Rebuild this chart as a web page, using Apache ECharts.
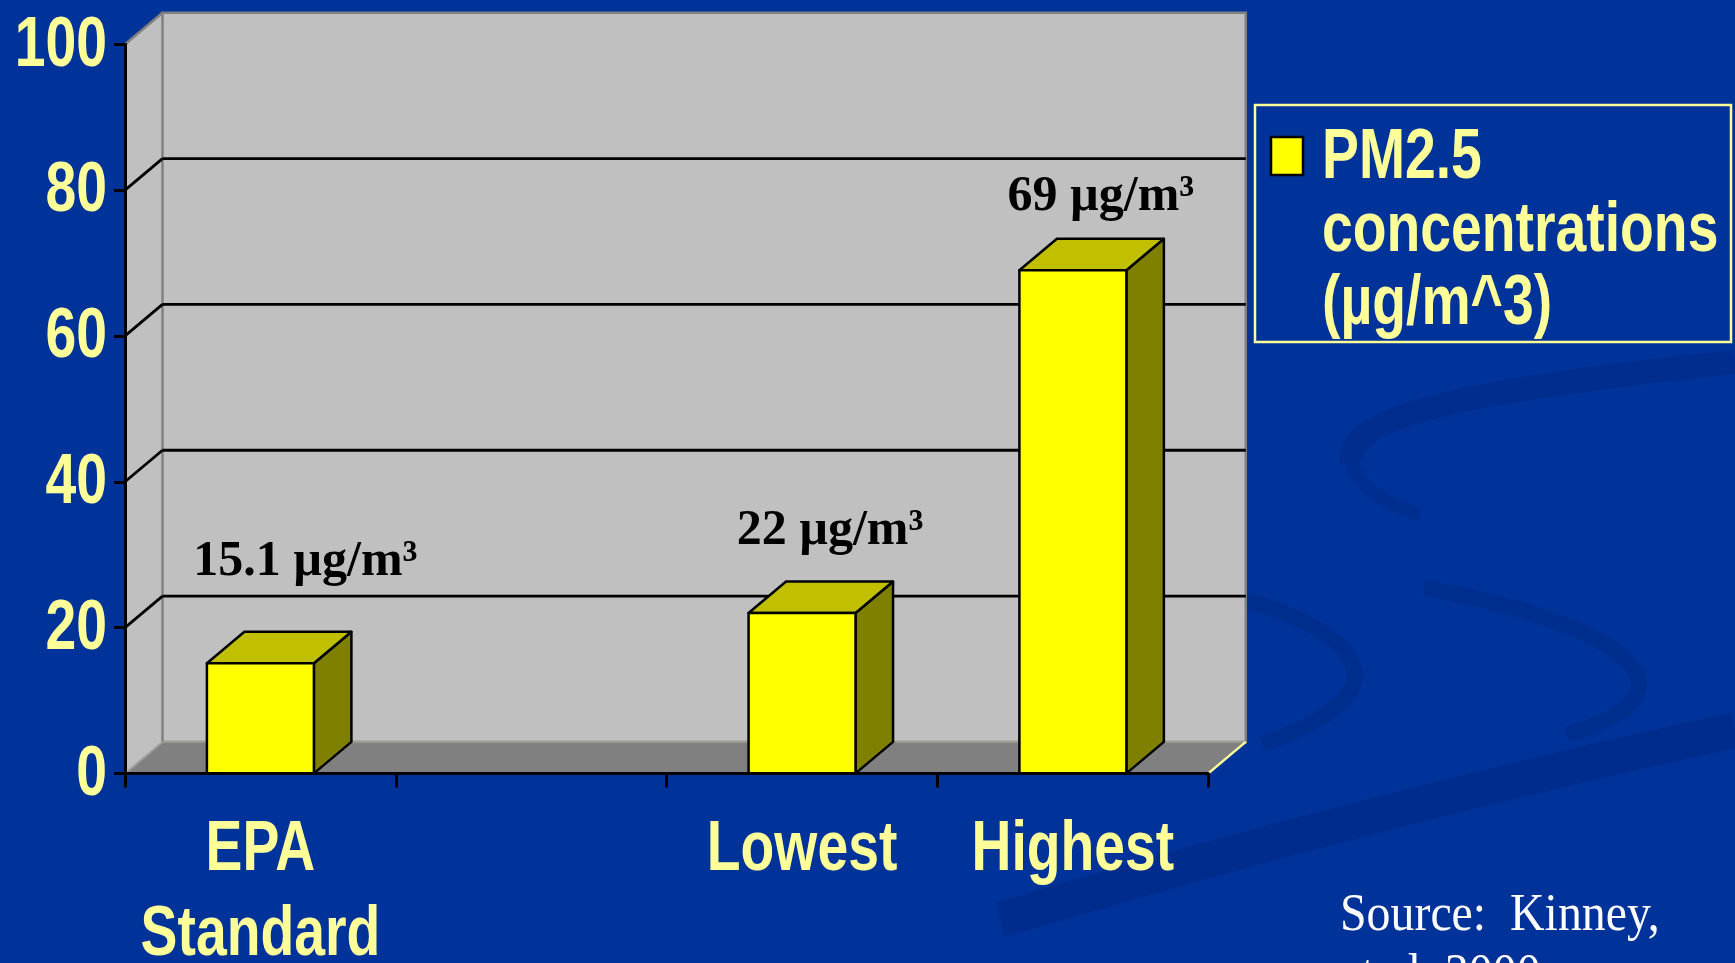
<!DOCTYPE html>
<html>
<head>
<meta charset="utf-8">
<script src="https://cdn.jsdelivr.net/npm/echarts@6/dist/echarts.min.js"></script>
<style>
  html, body { margin: 0; padding: 0; background: #003399; }
  #chart { width: 1735px; height: 963px; }
</style>
</head>
<body>
<div id="chart"></div>
<script>
// ---- data ----
const categories = ['EPA\nStandard', '', 'Lowest', 'Highest'];
const pm25Values = [15.1, null, 22, 69];
const yTickLabels = [0, 20, 40, 60, 80, 100];
const valueUnit = ' µg/m³';
const seriesName = 'PM2.5\nconcentrations\n(µg/m^3)';
const sourceLines = ['Source:  Kinney,', 'et al. 2000'];

// ---- styling ----
const SANS = "'Liberation Sans', Arial, sans-serif";
const SERIF = "'Liberation Serif', 'Times New Roman', serif";
const PALE = '#FFFF99';
const NARROW_SCALE = 0.79;
const DX = 37.5, DY = -31.5;          // 3D depth offset
const labelShift = [[45, -101], null, [28, -82], [28, -73]]; // manual label placement
const yMin = yTickLabels[0], yMax = yTickLabels[yTickLabels.length - 1];
const yStep = yTickLabels[1] - yTickLabels[0];

const chart = echarts.init(document.getElementById('chart'), null, { renderer: 'canvas' });

function wallsRender(params, api) {
  const cs = params.coordSys;
  const L = cs.x, R = cs.x + cs.width, T = cs.y, B = cs.y + cs.height;
  const children = [];
  children.push({ type: 'polygon', shape: { points: [[L, T], [L + DX, T + DY], [L + DX, B + DY], [L, B]] },
    style: { fill: '#C0C0C0', stroke: null } });
  children.push({ type: 'rect', shape: { x: L + DX, y: T + DY, width: R - L, height: B - T },
    style: { fill: '#C0C0C0', stroke: '#808080', lineWidth: 2.5 } });
  children.push({ type: 'polygon', shape: { points: [[L, B], [R, B], [R + DX, B + DY], [L + DX, B + DY]] },
    style: { fill: '#808080', stroke: null } });
  children.push({ type: 'line', shape: { x1: L + DX, y1: B + DY, x2: R + DX, y2: B + DY },
    style: { stroke: '#9A9A90', lineWidth: 2 } });
  children.push({ type: 'line', shape: { x1: L, y1: B, x2: L + DX, y2: B + DY },
    style: { stroke: '#A0A0A0', lineWidth: 2 } });
  children.push({ type: 'line', shape: { x1: R, y1: B, x2: R + DX, y2: B + DY },
    style: { stroke: PALE, lineWidth: 2.5 } });
  children.push({ type: 'line', shape: { x1: L, y1: T, x2: L + DX, y2: T + DY },
    style: { stroke: '#808080', lineWidth: 2.5 } });
  for (let k = 1; k < yTickLabels.length - 1; k++) {
    const y = api.coord([0, yTickLabels[k]])[1];
    children.push({ type: 'line', shape: { x1: L + DX, y1: y + DY, x2: R + DX, y2: y + DY },
      style: { stroke: '#000', lineWidth: 2.8 } });
    children.push({ type: 'line', shape: { x1: L, y1: y, x2: L + DX, y2: y + DY },
      style: { stroke: '#000', lineWidth: 2.8 } });
  }
  return { type: 'group', children };
}

function barRender(params, api) {
  const idx = params.dataIndex;
  const v = pm25Values[idx];
  if (v == null) return null;
  const top = api.coord([idx, v]);
  const base = api.coord([idx, 0]);
  const bw = api.size([1, 0])[0] * 0.395;
  const x = top[0] - bw / 2, y = top[1], yb = base[1];
  const edge = { stroke: '#000', lineWidth: 2.5, lineJoin: 'round' };
  const sh = labelShift[idx] || [0, -60];
  return {
    type: 'group',
    children: [
      { type: 'polygon', shape: { points: [[x + bw, y], [x + bw + DX, y + DY], [x + bw + DX, yb + DY], [x + bw, yb]] },
        style: Object.assign({ fill: '#808000' }, edge) },
      { type: 'polygon', shape: { points: [[x, y], [x + bw, y], [x + bw + DX, y + DY], [x + DX, y + DY]] },
        style: Object.assign({ fill: '#C0C000' }, edge) },
      { type: 'rect', shape: { x: x, y: y, width: bw, height: yb - y },
        style: Object.assign({ fill: '#FFFF00' }, edge) },
      { type: 'text', x: top[0] + sh[0], y: top[1] + sh[1],
        style: { text: v + valueUnit, fill: '#000', font: "bold 50px " + SERIF,
                 align: 'center', verticalAlign: 'middle' } }
    ]
  };
}

// axis tick labels, placed through the axes' own scales, drawn condensed
function xLabelRender(params, api) {
  const idx = params.dataIndex;
  const p = api.coord([idx, yMin]);
  return { type: 'text', x: p[0], y: p[1] + 35, scaleX: NARROW_SCALE,
    style: { text: categories[idx], fill: PALE, font: "bold 70px " + SANS, lineHeight: 85,
             align: 'center', verticalAlign: 'top' } };
}
function yLabelRender(params, api) {
  const idx = params.dataIndex;
  const p = api.coord([0, yTickLabels[idx]]);
  const cs = params.coordSys;
  return { type: 'text', x: cs.x - 18, y: p[1] + 2, scaleX: NARROW_SCALE,
    style: { text: String(yTickLabels[idx]), fill: PALE, font: "bold 70px " + SANS,
             align: 'right', verticalAlign: 'middle' } };
}

const option = {
  backgroundColor: '#003399',
  animation: false,
  grid: { left: 125, right: 526.7, top: 44.3, bottom: 189.6, containLabel: false, outerBoundsMode: 'none' },
  xAxis: {
    type: 'category', data: categories, boundaryGap: true, z: 10,
    axisLine: { show: true, lineStyle: { color: '#000', width: 3 } },
    axisTick: { show: true, inside: false, length: 14, interval: 0, lineStyle: { color: '#000', width: 3 } },
    axisLabel: { show: false },
    splitLine: { show: false }
  },
  yAxis: {
    type: 'value', min: yMin, max: yMax, interval: yStep, z: 10,
    axisLine: { show: true, lineStyle: { color: '#000', width: 3 } },
    axisTick: { show: true, inside: false, length: 11, lineStyle: { color: '#000', width: 3 } },
    axisLabel: { show: false },
    splitLine: { show: false }
  },
  series: [
    { type: 'custom', name: 'walls', z: 1, silent: true, renderItem: wallsRender,
      data: [0], encode: { x: -1, y: -1 } },
    { type: 'custom', name: seriesName, z: 3, renderItem: barRender,
      data: pm25Values.map((v, i) => [i, v == null ? 0 : v]), encode: { x: 0, y: 1 } },
    { type: 'custom', name: 'xLabels', z: 5, silent: true, clip: false, renderItem: xLabelRender,
      data: categories.map((c, i) => [i, yMin]), encode: { x: 0, y: 1 } },
    { type: 'custom', name: 'yLabels', z: 5, silent: true, clip: false, renderItem: yLabelRender,
      data: yTickLabels.map(v => [0, v]), encode: { x: 0, y: 1 } }
  ],
  graphic: [
    { type: 'group', silent: true, z: -10, children: [
      { type: 'bezierCurve', shape: { x1: 1735, y1: 362, cpx1: 1520, cpy1: 385, cpx2: 1340, cpy2: 410, x2: 1352, y2: 462 },
        style: { stroke: 'rgba(0,32,115,0.28)', lineWidth: 24, fill: null } },
      { type: 'bezierCurve', shape: { x1: 1352, y1: 462, cpx1: 1360, cpy1: 490, cpx2: 1390, cpy2: 505, x2: 1420, y2: 515 },
        style: { stroke: 'rgba(0,32,115,0.22)', lineWidth: 14, fill: null } },
      { type: 'bezierCurve', shape: { x1: 1246, y1: 600, cpx1: 1350, cpy1: 630, cpx2: 1420, cpy2: 690, x2: 1262, y2: 744 },
        style: { stroke: 'rgba(0,32,115,0.25)', lineWidth: 16, fill: null } },
      { type: 'bezierCurve', shape: { x1: 1424, y1: 588, cpx1: 1610, cpy1: 620, cpx2: 1720, cpy2: 690, x2: 1566, y2: 735 },
        style: { stroke: 'rgba(0,32,115,0.25)', lineWidth: 16, fill: null } },
      { type: 'bezierCurve', shape: { x1: 1000, y1: 920, cpx1: 1300, cpy1: 830, cpx2: 1550, cpy2: 770, x2: 1735, y2: 730 },
        style: { stroke: 'rgba(0,32,115,0.3)', lineWidth: 36, fill: null } }
    ]},
    { type: 'group', z: 20, children: [
      { type: 'rect', shape: { x: 1255, y: 105, width: 476, height: 237 },
        style: { fill: null, stroke: PALE, lineWidth: 2.5 } },
      { type: 'rect', shape: { x: 1271, y: 137, width: 32, height: 38 },
        style: { fill: '#FFFF00', stroke: '#000', lineWidth: 2.5 } },
      { type: 'text', x: 1322, y: 122, scaleX: NARROW_SCALE,
        style: { text: seriesName, fill: PALE, font: "bold 70px " + SANS, lineHeight: 73,
                 align: 'left', verticalAlign: 'top' } }
    ]},
    { type: 'text', x: 1340, y: 886, z: 20, scaleX: 0.92,
      style: { text: sourceLines.join('\n'), fill: '#FFFFFF', font: "52px " + SERIF, lineHeight: 60,
               align: 'left', verticalAlign: 'top' } }
  ]
};
chart.setOption(option);
</script>
</body>
</html>
